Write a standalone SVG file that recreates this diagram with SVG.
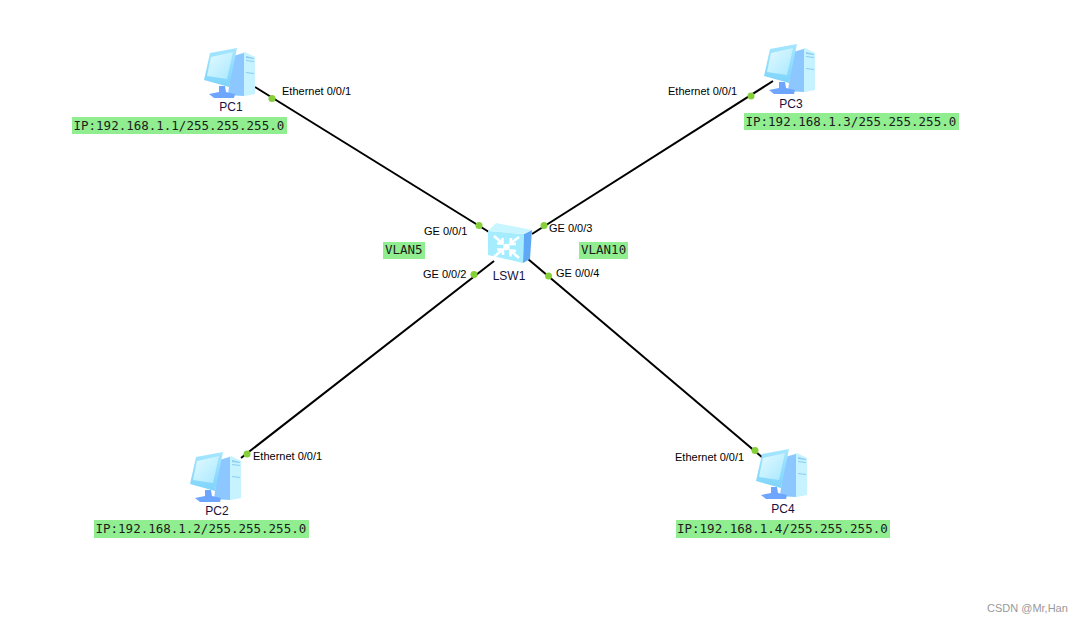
<svg xmlns="http://www.w3.org/2000/svg" width="1084" height="623" viewBox="0 0 1084 623">
<style>
.lnk{stroke:#000;stroke-width:2;fill:none}
.dot{fill:#85d038}
.t{font-family:"Liberation Sans",Arial,sans-serif;font-size:11px;fill:#000}
.n{font-family:"Liberation Sans",Arial,sans-serif;font-size:12px;fill:#1a1040;text-anchor:middle}
.bg{fill:#90ee90}
.m{font-family:"DejaVu Sans Mono",monospace;font-size:12.5px;fill:#1c1c1c}
.wm{font-family:"Liberation Sans",Arial,sans-serif;font-size:11px;fill:#999}
</style>
<defs>
<linearGradient id="scr" x1="0" y1="0" x2="1" y2="1"><stop offset="0" stop-color="#e4faff"/><stop offset="1" stop-color="#a9e8ff"/></linearGradient>
<linearGradient id="frm" x1="0" y1="0" x2="0" y2="1"><stop offset="0" stop-color="#a5e6ff"/><stop offset="1" stop-color="#7fd4fb"/></linearGradient>
<g id="pc">
<path d="M31 8L41 4L51 9L51 46L41 48L28 47Z" fill="#c6f3ff"/>
<path d="M29 8L40 5L40 48L24 47Z" fill="#8cc8ff"/>
<path d="M42 8L50 10L50 11L42 10ZM42 12L50 13L50 14L42 13ZM42 24L50 25L50 26L42 25Z" fill="#8cccf5"/>
<path d="M15 38L21 38L22 44L31 46L30 50L10 50L5 46L15 44Z" fill="#6ea6ff"/>
<path d="M6 5L33 0L25 39L0 32Z" fill="url(#frm)"/>
<path d="M7 9L29 4L23 31L3 28Z" fill="url(#scr)"/>
</g>
</defs>
<rect width="1084" height="623" fill="#fff"/>
<g id="connectors">
<line class="lnk" x1="255" y1="87" x2="489" y2="232"/>
<line class="lnk" x1="241" y1="458" x2="494" y2="261"/>
<line class="lnk" x1="773" y1="81" x2="532" y2="234"/>
<line class="lnk" x1="763" y1="458" x2="528" y2="259"/>
<circle class="dot" cx="272" cy="98.500" r="3.500"/>
<circle class="dot" cx="479" cy="225.500" r="3.500"/>
<circle class="dot" cx="474" cy="274.500" r="3.500"/>
<circle class="dot" cx="544" cy="225.500" r="3.500"/>
<circle class="dot" cx="548.500" cy="276" r="3.500"/>
<circle class="dot" cx="247" cy="454" r="3.500"/>
<circle class="dot" cx="751" cy="96" r="3.500"/>
<circle class="dot" cx="755" cy="450.500" r="3.500"/>
</g>
<g id="lsw1">
<path d="M488 231L524 234L523 263L488 255Z" fill="#a6ecff"/>
<path d="M524 234L532 230L530 259L523 263Z" fill="#5ea8f5"/>
<path d="M488 231L496 223L532 230L524 234Z" fill="#c8f5ff"/>
<g fill="none" stroke="#fff" stroke-width="2.600">
<path d="M494 236L502 243M497 243.500L502.500 243.500L502.500 238"/>
<path d="M519 237L511 243M511 238L510.500 244L516 244"/>
<path d="M494 257L502 250M497 249.500L503 249.500L503 255"/>
<path d="M519 258L511 251M510.500 256.500L510.500 250.500L516 251"/>
</g>
<circle cx="506.500" cy="247" r="3.300" fill="#fff"/>
<text class="n" x="509" y="280">LSW1</text>
</g>
<g id="pc1"><use href="#pc" x="204" y="48"/><text class="n" x="231" y="111">PC1</text></g>
<g id="pc2"><use href="#pc" x="190" y="452"/><text class="n" x="217" y="515">PC2</text></g>
<g id="pc3"><use href="#pc" x="764" y="44"/><text class="n" x="791" y="108">PC3</text></g>
<g id="pc4"><use href="#pc" x="756" y="449"/><text class="n" x="783" y="513">PC4</text></g>
<g id="port-labels">
<text class="t" x="282" y="95">Ethernet 0/0/1</text>
<text class="t" x="668" y="95">Ethernet 0/0/1</text>
<text class="t" x="253" y="460">Ethernet 0/0/1</text>
<text class="t" x="675" y="461">Ethernet 0/0/1</text>
<text class="t" x="424" y="235">GE 0/0/1</text>
<text class="t" x="423" y="278">GE 0/0/2</text>
<text class="t" x="549" y="232">GE 0/0/3</text>
<text class="t" x="556" y="277">GE 0/0/4</text>
</g>
<g id="annotations">
<rect class="bg" x="72" y="117" width="215" height="17"/><text class="m" x="73.500" y="130">IP:192.168.1.1/255.255.255.0</text>
<rect class="bg" x="744" y="113" width="215" height="17"/><text class="m" x="745.500" y="126">IP:192.168.1.3/255.255.255.0</text>
<rect class="bg" x="94" y="520" width="215" height="18"/><text class="m" x="95.500" y="533">IP:192.168.1.2/255.255.255.0</text>
<rect class="bg" x="676" y="520" width="214" height="18"/><text class="m" x="677" y="533">IP:192.168.1.4/255.255.255.0</text>
<rect class="bg" x="383" y="242" width="42" height="17"/><text class="m" x="385" y="254">VLAN5</text>
<rect class="bg" x="579" y="242" width="49" height="17"/><text class="m" x="581" y="254">VLAN10</text>
</g>
<text class="wm" x="987" y="612">CSDN @Mr,Han</text>
</svg>
